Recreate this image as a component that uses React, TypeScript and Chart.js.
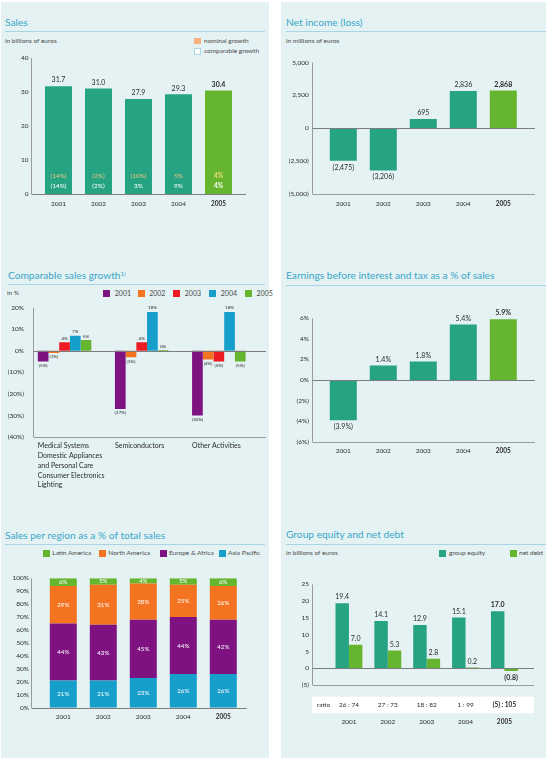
import React, { useEffect, useRef } from 'react';
import { Chart, registerables } from 'chart.js';

Chart.register(...registerables);

const FONT = "Lato, 'DejaVu Sans', sans-serif";
const TXT = '#2b2b2b';
const TITLE = '#3aa6c8';
const RULE = '#a6d6e6';
const PANEL = '#e5f2f3';

const TEAL = '#25a383';
const GREEN = '#66b52f';
const PURPLE = '#7e1280';
const ORANGE = '#f47320';
const RED = '#ed1c24';
const BLUE = '#169fca';

// ---------- data ----------
const years = ['2001', '2002', '2003', '2004', '2005'];

// Sales (billions of euros)
const salesValues = [31.7, 31.0, 27.9, 29.3, 30.4];
const nominalGrowth = [-14, -2, -10, 5, 4];
const comparableGrowth = [-14, -2, 3, 9, 4];

// Net income (millions of euros)
const netIncome = [-2475, -3206, 695, 2836, 2868];

// Comparable sales growth (%)
const sectors = ['Medical Systems', 'Semiconductors', 'Other Activities'];
const otherSectors = ['Domestic Appliances', 'and Personal Care', 'Consumer Electronics', 'Lighting'];
const growth2001 = [-5, -27, -30];
const growth2002 = [-1, -3, -4];
const growth2003 = [4, 4, -5];
const growth2004 = [7, 18, 18];
const growth2005 = [5, 0, -5];

// EBIT as % of sales
const ebitPct = [-3.9, 1.4, 1.8, 5.4, 5.9];

// Sales per region (% of total)
const asiaPacific = [21, 21, 23, 26, 26];
const europeAfrica = [44, 43, 45, 44, 42];
const northAmerica = [29, 31, 28, 25, 26];
const latinAmerica = [6, 5, 4, 5, 6];

// Group equity and net debt (billions of euros)
const groupEquity = [19.4, 14.1, 12.9, 15.1, 17.0];
const netDebt = [7.0, 5.3, 2.8, 0.2, -0.8];
const equityRatio = ['26 : 74', '27 : 73', '18 : 82', '1 : 99', '(5) : 105'];

// ---------- helpers ----------
const paren = (v: number, s: string) => (v < 0 ? `(${s})` : s);
const pct0 = (v: number) => paren(v, `${Math.abs(v)}%`);
const thou = (v: number) => paren(v, Math.abs(v).toLocaleString('en-US'));

const axisLinesPlugin = {
  id: 'axisLines',
  beforeDatasetsDraw(chart: any, _a: any, o: any) {
    const { ctx, chartArea: a } = chart;
    const x0 = Math.round(a.left + o.left) + 0.5;
    const x1 = a.right + o.right;
    ctx.save();
    ctx.strokeStyle = '#9a9a9a';
    ctx.lineWidth = 1;
    ctx.beginPath();
    ctx.moveTo(x0, a.top);
    ctx.lineTo(x0, a.bottom);
    if (o.bottom) {
      const yb = Math.round(a.bottom) + 0.5;
      ctx.moveTo(x0, yb);
      ctx.lineTo(x1, yb);
    }
    ctx.stroke();
    ctx.restore();
  },
  afterDatasetsDraw(chart: any, _a: any, o: any) {
    const { ctx, chartArea: a, scales } = chart;
    const x0 = Math.round(a.left + o.left) + 0.5;
    const x1 = a.right + o.right;
    const y0 = Math.round(scales.y.getPixelForValue(0)) + 0.5;
    ctx.save();
    ctx.strokeStyle = '#7d7d7d';
    ctx.lineWidth = 1;
    ctx.beginPath();
    ctx.moveTo(x0, y0);
    ctx.lineTo(x1, y0);
    ctx.stroke();
    ctx.restore();
  },
};

function buildChart(canvas: HTMLCanvasElement, c: any) {
  const xTicks: any = {
    autoSkip: false,
    maxRotation: 0,
    padding: c.xPad,
    color: TXT,
    align: c.xAlign || 'center',
    labelOffset: c.labelOffset || 0,
    font: (ctx: any) => ({
      family: FONT,
      size: c.xSize || 6.5,
      weight: c.boldLast && ctx.index === c.labels.length - 1 ? 'bold' : 'normal',
      lineHeight: c.xLineHeight || 1.2,
    }),
  };
  if (c.xCallback) xTicks.callback = c.xCallback;
  return new Chart(canvas, {
    type: 'bar',
    data: { labels: c.labels, datasets: c.datasets },
    options: {
      responsive: false,
      maintainAspectRatio: false,
      animation: false,
      layout: { padding: { left: 0, top: c.padTop, right: c.padRight, bottom: 0 } },
      datasets: { bar: { categoryPercentage: c.catPct, barPercentage: c.barPct } },
      plugins: {
        legend: { display: false },
        tooltip: { enabled: false },
        title: { display: false },
        axisLines: c.axis,
      } as any,
      scales: {
        x: {
          stacked: !!c.stacked,
          grid: { display: false, drawTicks: false },
          border: { display: false },
          ticks: xTicks,
          afterFit: (s: any) => {
            s.height = c.xHeight;
          },
        },
        y: {
          stacked: !!c.stacked,
          min: c.yMin,
          max: c.yMax,
          grid: { display: false, drawTicks: false },
          border: { display: false },
          ticks: {
            stepSize: c.step,
            padding: c.yPad,
            color: TXT,
            font: { family: FONT, size: 6.5 },
            callback: c.yFmt,
          },
          afterFit: (s: any) => {
            s.width = c.areaLeft;
          },
        },
      } as any,
    },
    plugins: [axisLinesPlugin, ...(c.plugins || [])],
  } as any);
}

// ---------- label plugins ----------
const salesLabels = {
  id: 'salesLabels',
  afterDatasetsDraw(chart: any) {
    const { ctx } = chart;
    const meta = chart.getDatasetMeta(0);
    const y0 = chart.scales.y.getPixelForValue(0);
    ctx.save();
    ctx.textAlign = 'center';
    ctx.textBaseline = 'middle';
    meta.data.forEach((bar: any, i: number) => {
      const last = i === meta.data.length - 1;
      const w = last ? 'bold ' : '';
      ctx.font = `${w}7px ${FONT}`;
      ctx.fillStyle = TXT;
      ctx.fillText(salesValues[i].toFixed(1), bar.x, bar.y - 6);
      ctx.font = `${w}6.5px ${FONT}`;
      ctx.fillStyle = last ? '#f6dc86' : '#f0c47e';
      ctx.fillText(pct0(nominalGrowth[i]), bar.x, y0 - 18);
      ctx.fillStyle = '#ffffff';
      ctx.fillText(pct0(comparableGrowth[i]), bar.x, y0 - 8);
    });
    ctx.restore();
  },
};

const netIncomeLabels = {
  id: 'netIncomeLabels',
  afterDatasetsDraw(chart: any) {
    const { ctx } = chart;
    const meta = chart.getDatasetMeta(0);
    ctx.save();
    ctx.textAlign = 'center';
    ctx.textBaseline = 'middle';
    ctx.fillStyle = TXT;
    meta.data.forEach((bar: any, i: number) => {
      const v = netIncome[i];
      ctx.font = `${i === meta.data.length - 1 ? 'bold ' : ''}7px ${FONT}`;
      ctx.fillText(thou(v), bar.x, v >= 0 ? bar.y - 6 : bar.y + 6.5);
    });
    ctx.restore();
  },
};

const growthSeries = [growth2001, growth2002, growth2003, growth2004, growth2005];
const growthLabels = {
  id: 'growthLabels',
  afterDatasetsDraw(chart: any) {
    const { ctx } = chart;
    ctx.save();
    ctx.textAlign = 'center';
    ctx.textBaseline = 'middle';
    ctx.fillStyle = TXT;
    ctx.font = `4.6px ${FONT}`;
    growthSeries.forEach((series, d) => {
      const meta = chart.getDatasetMeta(d);
      meta.data.forEach((bar: any, i: number) => {
        const v = series[i];
        const y = v >= 0 ? Math.min(bar.y, bar.base) - 4 : bar.y + 3.8;
        ctx.fillText(pct0(v), bar.x, y);
      });
    });
    ctx.restore();
  },
};

const ebitLabels = {
  id: 'ebitLabels',
  afterDatasetsDraw(chart: any) {
    const { ctx } = chart;
    const meta = chart.getDatasetMeta(0);
    ctx.save();
    ctx.textAlign = 'center';
    ctx.textBaseline = 'middle';
    ctx.fillStyle = TXT;
    meta.data.forEach((bar: any, i: number) => {
      const v = ebitPct[i];
      ctx.font = `${i === meta.data.length - 1 ? 'bold ' : ''}7px ${FONT}`;
      ctx.fillText(paren(v, `${Math.abs(v).toFixed(1)}%`), bar.x, v >= 0 ? bar.y - 6 : bar.y + 6.5);
    });
    ctx.restore();
  },
};

const regionSeries = [asiaPacific, europeAfrica, northAmerica, latinAmerica];
const regionLabels = {
  id: 'regionLabels',
  afterDatasetsDraw(chart: any) {
    const { ctx } = chart;
    ctx.save();
    ctx.textAlign = 'center';
    ctx.textBaseline = 'middle';
    ctx.fillStyle = '#ffffff';
    ctx.font = `6.2px ${FONT}`;
    regionSeries.forEach((series, d) => {
      const meta = chart.getDatasetMeta(d);
      meta.data.forEach((bar: any, i: number) => {
        ctx.fillText(`${series[i]}%`, bar.x, (bar.y + bar.base) / 2);
      });
    });
    ctx.restore();
  },
};

const equitySeries = [groupEquity, netDebt];
const equityLabels = {
  id: 'equityLabels',
  afterDatasetsDraw(chart: any) {
    const { ctx, chartArea: a, scales } = chart;
    const o = chart.options.plugins.axisLines;
    ctx.save();
    ctx.textAlign = 'center';
    ctx.textBaseline = 'middle';
    ctx.fillStyle = TXT;
    equitySeries.forEach((series, d) => {
      const meta = chart.getDatasetMeta(d);
      meta.data.forEach((bar: any, i: number) => {
        const v = series[i];
        ctx.font = `${i === series.length - 1 ? 'bold ' : ''}7px ${FONT}`;
        ctx.fillText(paren(v, Math.abs(v).toFixed(1)), bar.x, v >= 0 ? bar.y - 6 : bar.y + 6.5);
      });
    });
    // ratio row
    const x0 = Math.round(a.left + o.left);
    const x1 = a.right + o.right;
    ctx.fillStyle = '#ffffff';
    ctx.fillRect(x0, a.bottom + 11.7, x1 - x0, 16.6);
    ctx.fillStyle = TXT;
    ctx.font = `6.5px ${FONT}`;
    ctx.textAlign = 'left';
    ctx.fillText('ratio', x0 + 5, a.bottom + 20);
    ctx.textAlign = 'center';
    equityRatio.forEach((r, i) => {
      ctx.font = `${i === equityRatio.length - 1 ? 'bold ' : ''}6.5px ${FONT}`;
      ctx.fillText(r, scales.x.getPixelForValue(i), a.bottom + 20);
    });
    ctx.restore();
  },
};

// ---------- small HTML pieces ----------
const T = ({ x, y, size, color = '#4a4a4a', children }: any) => (
  <div
    style={{
      position: 'absolute',
      left: x,
      top: y - size * 0.64,
      fontSize: size,
      lineHeight: `${size * 1.2}px`,
      color,
      fontWeight: 400,
      fontStyle: 'normal',
      whiteSpace: 'nowrap',
      fontFamily: FONT,
    }}
  >
    {children}
  </div>
);
const Box = ({ x, y, w, h, bg, border }: any) => (
  <div
    style={{
      position: 'absolute',
      left: x,
      top: y,
      width: w,
      height: h,
      background: bg,
      boxSizing: 'border-box',
      border: border ? `1px solid ${border}` : 'none',
    }}
  />
);
const Rule = ({ x1, x2, y }: any) => <Box x={x1} y={y} w={x2 - x1} h={1} bg={RULE} />;

const cv = (x: number, y: number, w: number, h: number) => ({
  width: w,
  height: h,
  style: { position: 'absolute' as const, left: x, top: y, width: w, height: h },
});

const TS = 10.2;

export default function App() {
  const r1 = useRef<HTMLCanvasElement>(null);
  const r2 = useRef<HTMLCanvasElement>(null);
  const r3 = useRef<HTMLCanvasElement>(null);
  const r4 = useRef<HTMLCanvasElement>(null);
  const r5 = useRef<HTMLCanvasElement>(null);
  const r6 = useRef<HTMLCanvasElement>(null);

  useEffect(() => {
    document.body.style.margin = '0';
    const colorsYear = years.map((_, i) => (i === years.length - 1 ? GREEN : TEAL));
    const charts = [
      buildChart(r1.current!, {
        labels: years,
        datasets: [{ data: salesValues, backgroundColor: colorsYear }],
        yMin: 0, yMax: 40, step: 10, yFmt: (v: number) => `${v}`,
        areaLeft: 38.5, padTop: 10, padRight: 30.5, xHeight: 22, yPad: 10, xPad: 6.1,
        catPct: 1, barPct: 0.675, boldLast: true,
        axis: { left: -7.5, right: 7.5, bottom: false },
        plugins: [salesLabels],
      }),
      buildChart(r2.current!, {
        labels: years,
        datasets: [{ data: netIncome, backgroundColor: colorsYear }],
        yMin: -5000, yMax: 5000, step: 2500, yFmt: thou,
        areaLeft: 50.3, padTop: 10, padRight: 23.7, xHeight: 22, yPad: 14.6, xPad: 6.1,
        catPct: 1, barPct: 0.675, boldLast: true,
        axis: { left: -11, right: 11.7, bottom: true },
        plugins: [netIncomeLabels],
      }),
      buildChart(r3.current!, {
        labels: sectors,
        datasets: [
          { label: years[0], data: growth2001, backgroundColor: PURPLE },
          { label: years[1], data: growth2002, backgroundColor: ORANGE },
          { label: years[2], data: growth2003, backgroundColor: RED },
          { label: years[3], data: growth2004, backgroundColor: BLUE },
          { label: years[4], data: growth2005, backgroundColor: GREEN, minBarLength: 1 },
        ],
        yMin: -40, yMax: 20, step: 10, yFmt: pct0,
        areaLeft: 26, padTop: 7.7, padRight: 32.6, xHeight: 63, yPad: 2, xPad: 4.1,
        catPct: 0.694, barPct: 1, xAlign: 'start', labelOffset: -26.75, xSize: 7, xLineHeight: 1.4,
        xCallback: (_v: any, i: number) => (i === 0 ? [sectors[0], ...otherSectors] : sectors[i]),
        axis: { left: 6.7, right: 8.6, bottom: true },
        plugins: [growthLabels],
      }),
      buildChart(r4.current!, {
        labels: years,
        datasets: [{ data: ebitPct, backgroundColor: colorsYear }],
        yMin: -6, yMax: 6, step: 2, yFmt: pct0,
        areaLeft: 50.3, padTop: 8.3, padRight: 23.7, xHeight: 17.7, yPad: 14.3, xPad: 5.5,
        catPct: 1, barPct: 0.675, boldLast: true,
        axis: { left: -11, right: 11.7, bottom: true },
        plugins: [ebitLabels],
      }),
      buildChart(r5.current!, {
        labels: years,
        datasets: [
          { label: 'Asia Pacific', data: asiaPacific, backgroundColor: BLUE },
          { label: 'Europe & Africa', data: europeAfrica, backgroundColor: PURPLE },
          { label: 'North America', data: northAmerica, backgroundColor: ORANGE },
          { label: 'Latin America', data: latinAmerica, backgroundColor: GREEN },
        ],
        stacked: true,
        yMin: 0, yMax: 100, step: 10, yFmt: (v: number) => `${v}%`,
        areaLeft: 43.3, padTop: 7.3, padRight: 25.7, xHeight: 22.3, yPad: 14.3, xPad: 5.1,
        catPct: 1, barPct: 0.675, boldLast: true,
        axis: { left: -12.6, right: 3.4, bottom: false },
        plugins: [regionLabels],
      }),
      buildChart(r6.current!, {
        labels: years,
        datasets: [
          { label: 'group equity', data: groupEquity, backgroundColor: TEAL },
          { label: 'net debt', data: netDebt, backgroundColor: GREEN },
        ],
        yMin: -5, yMax: 25, step: 5, yFmt: (v: number) => paren(v, `${Math.abs(v)}`),
        areaLeft: 56.5, padTop: 7.3, padRight: 22.5, xHeight: 50, yPad: 20.5, xPad: 32.8,
        catPct: 0.692, barPct: 1, boldLast: true,
        axis: { left: -17.2, right: 10.2, bottom: true },
        plugins: [equityLabels],
      }),
    ];
    return () => charts.forEach((c) => c.destroy());
  }, []);

  const yearColors = [PURPLE, ORANGE, RED, BLUE, GREEN];
  const yearLegendX = [103.3, 137.7, 173.3, 209.3, 245];
  const regionLegend = [
    { name: 'Latin America', color: GREEN, x: 43.3 },
    { name: 'North America', color: ORANGE, x: 99.3 },
    { name: 'Europe & Africa', color: PURPLE, x: 160 },
    { name: 'Asia Pacific', color: BLUE, x: 219 },
  ];

  return (
    <div
      style={{
        position: 'absolute',
        left: 0,
        top: 0,
        width: 547,
        height: 760,
        background: '#ffffff',
        overflow: 'hidden',
        fontFamily: FONT,
      }}
    >
      <Box x={1} y={2} w={268} h={756} bg={PANEL} />
      <Box x={281} y={2} w={265} h={756} bg={PANEL} />

      {/* Panel 1: Sales */}
      <T x={5} y={23} size={TS} color={TITLE}>Sales</T>
      <Rule x1={5} x2={265} y={31} />
      <T x={5} y={41} size={6.5}>in billions of euros</T>
      <Box x={194} y={37.5} w={7} h={6.5} bg="#f5b17e" />
      <T x={204} y={41} size={6.5}>nominal growth</T>
      <Box x={194} y={48} w={7} h={6.5} bg="#ffffff" border="#a8d8e8" />
      <T x={204} y={51.5} size={6.5}>comparable growth</T>
      <canvas ref={r1} {...cv(0, 44, 269, 172)} />

      {/* Panel 2: Net income */}
      <T x={286} y={23} size={TS} color={TITLE}>Net income (loss)</T>
      <Rule x1={286} x2={546} y={31} />
      <T x={286} y={41} size={6.5}>in millions of euros</T>
      <canvas ref={r2} {...cv(273, 44, 274, 172)} />

      {/* Panel 3: Comparable sales growth */}
      <T x={8} y={275.7} size={TS} color={TITLE}>
        Comparable sales growth<sup style={{ fontSize: 6, verticalAlign: 'top', position: 'relative', top: -1 }}>1)</sup>
      </T>
      <Rule x1={8} x2={265} y={284} />
      <T x={7} y={293.3} size={6.5}>in %</T>
      {years.map((yr, i) => (
        <React.Fragment key={yr}>
          <Box x={yearLegendX[i]} y={290} w={7} h={7} bg={yearColors[i]} />
          <T x={yearLegendX[i] + 11.5} y={293.5} size={7}>{yr}</T>
        </React.Fragment>
      ))}
      <canvas ref={r3} {...cv(0, 300, 290, 200)} />

      {/* Panel 4: EBIT */}
      <T x={286} y={275.7} size={TS} color={TITLE}>Earnings before interest and tax as a % of sales</T>
      <Rule x1={286} x2={546} y={285} />
      <canvas ref={r4} {...cv(273, 300, 274, 160)} />

      {/* Panel 5: Sales per region */}
      <T x={5} y={535.7} size={TS} color={TITLE}>Sales per region as a % of total sales</T>
      <Rule x1={5} x2={265} y={544} />
      {regionLegend.map((r) => (
        <React.Fragment key={r.name}>
          <Box x={r.x} y={549.5} w={7} h={7} bg={r.color} />
          <T x={r.x + 9} y={553} size={6.5}>{r.name}</T>
        </React.Fragment>
      ))}
      <canvas ref={r5} {...cv(0, 560, 269, 170)} />

      {/* Panel 6: Group equity and net debt */}
      <T x={286} y={535} size={TS} color={TITLE}>Group equity and net debt</T>
      <Rule x1={286} x2={546} y={544} />
      <T x={286} y={553} size={6.5}>in billions of euros</T>
      <Box x={439} y={549.5} w={7} h={7} bg={TEAL} />
      <T x={449} y={553} size={6.5}>group equity</T>
      <Box x={509.5} y={549.5} w={7} h={7} bg={GREEN} />
      <T x={519} y={553} size={6.5}>net debt</T>
      <canvas ref={r6} {...cv(273, 560, 274, 175)} />
    </div>
  );
}
